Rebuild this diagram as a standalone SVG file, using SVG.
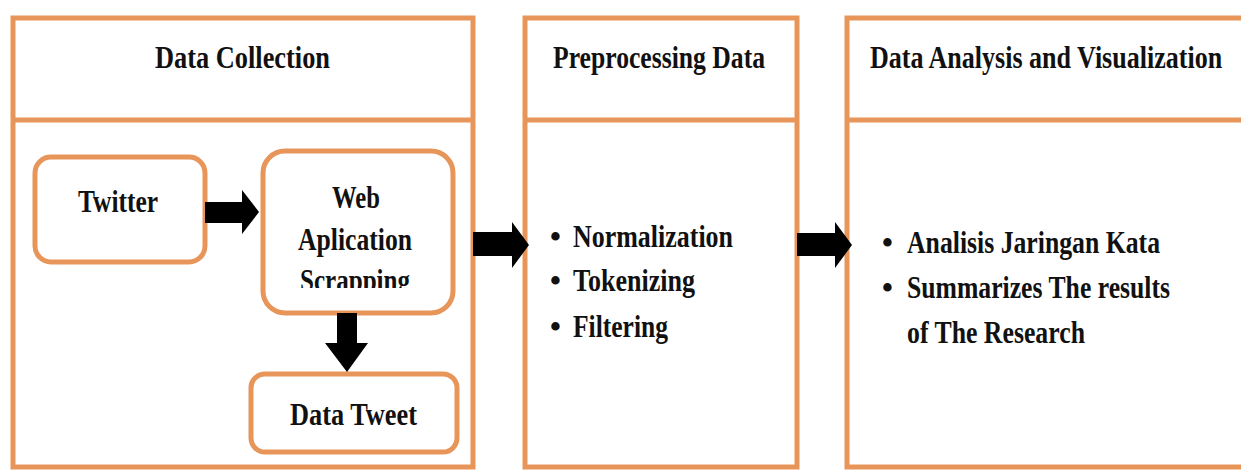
<svg xmlns="http://www.w3.org/2000/svg" width="1241" height="470" viewBox="0 0 1241 470">
<style>
.panel{fill:#ffffff;stroke:#E8955A;stroke-width:5}
.box{fill:#ffffff;stroke:#E8955A;stroke-width:5}
.div{stroke:#E8955A;stroke-width:5}
text{font-family:'Liberation Serif','Times New Roman',serif;font-weight:bold;font-size:31px;fill:#111111}
.arrow{fill:#000000}
</style>
<defs>
<clipPath id="clipScr"><rect x="260" y="255" width="200" height="33"/></clipPath>
</defs>
<rect x="0" y="0" width="1241" height="470" fill="#ffffff"/>
<g id="panel-collection">
<rect class="panel" x="13" y="18" width="460" height="449"/>
<line class="div" x1="13" y1="120" x2="473" y2="120"/>
<text x="155" y="68" textLength="175" lengthAdjust="spacingAndGlyphs">Data Collection</text>
</g>
<g id="panel-preprocessing">
<rect class="panel" x="525" y="18" width="272" height="449"/>
<line class="div" x1="525" y1="120" x2="797" y2="120"/>
<text x="553" y="68" textLength="212" lengthAdjust="spacingAndGlyphs">Preprocessing Data</text>
<text y="247"><tspan x="550">•</tspan><tspan x="573" textLength="160" lengthAdjust="spacingAndGlyphs">Normalization</tspan></text>
<text y="291"><tspan x="550">•</tspan><tspan x="573" textLength="122" lengthAdjust="spacingAndGlyphs">Tokenizing</tspan></text>
<text y="337"><tspan x="550">•</tspan><tspan x="573" textLength="95" lengthAdjust="spacingAndGlyphs">Filtering</tspan></text>
</g>
<g id="panel-analysis">
<rect class="panel" x="847" y="18" width="410" height="449"/>
<line class="div" x1="847" y1="120" x2="1241" y2="120"/>
<text transform="translate(870,68) scale(0.84,1)" x="0" y="0">Data Analysis and Visualization</text>
<text y="253"><tspan x="882">•</tspan><tspan x="907" textLength="253" lengthAdjust="spacingAndGlyphs">Analisis Jaringan Kata</tspan></text>
<text y="298"><tspan x="882">•</tspan><tspan x="907" textLength="263" lengthAdjust="spacingAndGlyphs">Summarizes The results</tspan></text>
<text x="907" y="343" textLength="178" lengthAdjust="spacingAndGlyphs">of The Research</text>
</g>
<g id="node-twitter">
<rect class="box" x="35" y="157" width="170" height="105" rx="16"/>
<text x="78" y="212" textLength="80" lengthAdjust="spacingAndGlyphs">Twitter</text>
</g>
<g id="node-web">
<rect class="box" x="263" y="151" width="190" height="162" rx="22"/>
<text x="332" y="208" textLength="48" lengthAdjust="spacingAndGlyphs">Web</text>
<text x="298" y="250" textLength="114" lengthAdjust="spacingAndGlyphs">Aplication</text>
<text x="300" y="291" textLength="110" lengthAdjust="spacingAndGlyphs" clip-path="url(#clipScr)">Scrapping</text>
</g>
<g id="node-tweet">
<rect class="box" x="251" y="374" width="206" height="78" rx="14"/>
<text x="290" y="425" textLength="127" lengthAdjust="spacingAndGlyphs">Data Tweet</text>
</g>
<g id="connectors">
<polygon class="arrow" points="205,202 242,202 242,190 259,212 242,234 242,223 205,223"/>
<polygon class="arrow" points="337,313 357,313 357,343 368,343 347,372 325,343 337,343"/>
<polygon class="arrow" points="473,232 512,232 512,222 529,245 512,268 512,256 473,256"/>
<polygon class="arrow" points="797,233 835,233 835,222 852,245 835,268 835,256 797,256"/>
</g>
</svg>
